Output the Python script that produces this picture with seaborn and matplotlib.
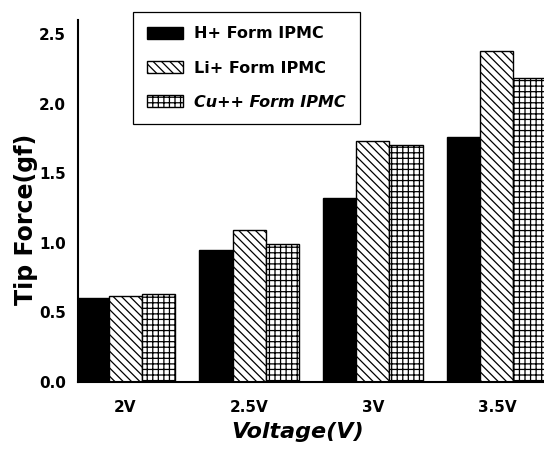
import matplotlib
matplotlib.use("Agg")
import matplotlib.pyplot as plt
import seaborn as sns
import pandas as pd
from matplotlib.ticker import MultipleLocator, FixedLocator

voltages = ["2V", "2.5V", "3V", "3.5V"]
series_names = ["H+ Form IPMC", "Li+ Form IPMC", "Cu++ Form IPMC"]
h_vals = [0.60, 0.95, 1.32, 1.76]
li_vals = [0.62, 1.09, 1.73, 2.38]
cu_vals = [0.63, 0.99, 1.70, 2.18]

rows = []
for name, vals in zip(series_names, [h_vals, li_vals, cu_vals]):
    for v, y in zip(voltages, vals):
        rows.append({"Voltage": v, "Force": y, "Form": name})
df = pd.DataFrame(rows)

sns.set_style("white")
plt.rcParams["font.family"] = ["DejaVu Sans"]
plt.rcParams["font.weight"] = "bold"
plt.rcParams["hatch.linewidth"] = 0.9
plt.rcParams["text.color"] = "black"
plt.rcParams["axes.labelcolor"] = "black"

fig = plt.figure(figsize=(5.44, 4.59), dpi=100)
ax = fig.add_axes([78 / 544, 77 / 459, (544 - 78) / 544, 362 / 459])

sns.barplot(data=df, x="Voltage", y="Force", hue="Form", order=voltages,
            hue_order=series_names, palette=["black", "white", "white"],
            edgecolor="black", linewidth=1.0, width=0.8, gap=0,
            errorbar=None, ax=ax)

hatches = [None, "\\\\\\\\", "+++"]
for cont, h in zip(ax.containers, hatches):
    for p in cont:
        p.set_edgecolor("black")
        if h:
            p.set_hatch(h)

if ax.get_legend() is not None:
    ax.get_legend().remove()
handles = [cont[0] for cont in ax.containers]
leg = ax.legend(handles, series_names, loc="upper left",
                bbox_to_anchor=(133 / 544, 1 - 12 / 459),
                bbox_transform=fig.transFigure, fancybox=False,
                edgecolor="black", framealpha=1, fontsize=11.5,
                handlelength=2.2, handleheight=0.75, labelspacing=1.2,
                handletextpad=0.7, borderpad=0.9, borderaxespad=0)
leg.get_frame().set_linewidth(0.9)
for t in leg.get_texts():
    t.set_fontweight("bold")
    t.set_color("black")
leg.get_texts()[2].set_style("italic")

ax.set_xlim(-0.38, 3.38)
ax.set_ylim(0, 2.6)
ax.yaxis.set_major_locator(MultipleLocator(0.5))
ax.yaxis.set_minor_locator(MultipleLocator(0.25))
ax.xaxis.set_minor_locator(FixedLocator([-0.5, 0.5, 1.5, 2.5, 3.5]))

for s in ["top", "right"]:
    ax.spines[s].set_visible(False)
for s in ["left", "bottom"]:
    ax.spines[s].set_linewidth(1.5)
    ax.spines[s].set_color("black")

ax.tick_params(axis="both", which="major", direction="out", length=5,
               width=1.3, color="black", labelsize=11, labelcolor="black")
ax.tick_params(axis="both", which="minor", direction="out", length=3,
               width=1.1, color="black")
ax.tick_params(axis="x", which="major", pad=8)
for lab in ax.get_xticklabels() + ax.get_yticklabels():
    lab.set_fontweight("bold")

ax.set_xlabel("Voltage(V)", fontsize=16, fontweight="bold", style="italic",
              color="black")
ax.set_ylabel("Tip Force(gf)", fontsize=17, fontweight="bold", color="black")
ax.xaxis.set_label_coords(0.472, -0.11)
ax.yaxis.set_label_coords(-0.085, 0.45)

fig.savefig("out.png", dpi=100)
